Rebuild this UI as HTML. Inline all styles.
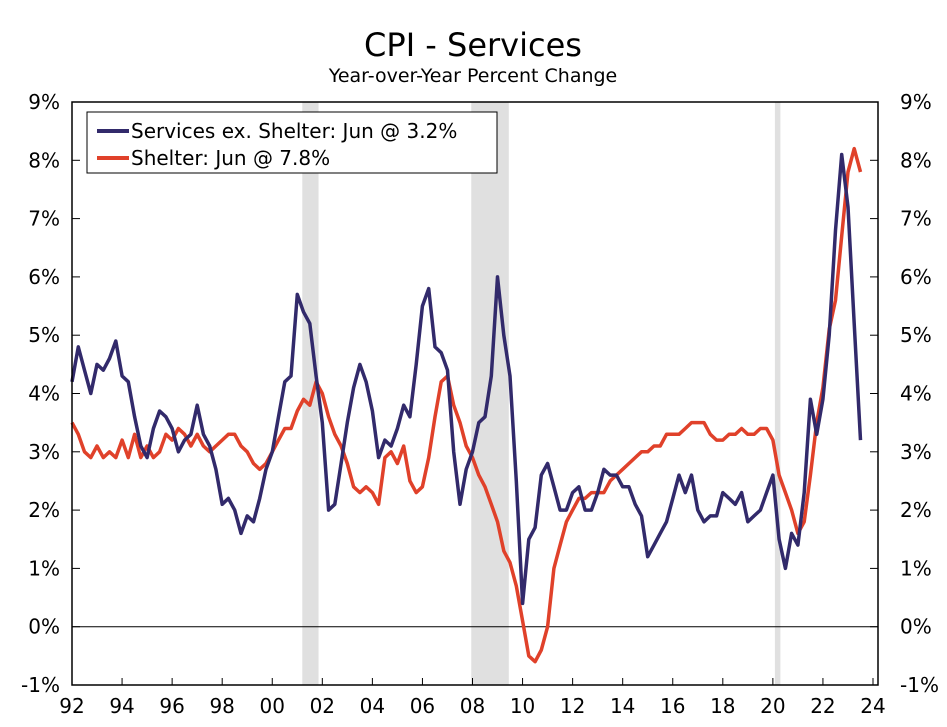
<!DOCTYPE html>
<html><head><meta charset="utf-8"><style>
body{margin:0;background:#fff;}
svg{display:block;font-family:"DejaVu Sans","Liberation Sans",sans-serif;}
</style></head><body>
<svg id="chart" width="947" height="727">
<text x="473" y="56" font-size="32" text-anchor="middle" fill="#000">CPI - Services</text>
<text x="473" y="82" font-size="19" text-anchor="middle" fill="#000">Year-over-Year Percent Change</text>
<g id="bands"></g><g id="grid"></g><g id="series"></g><g id="axes"></g>
<g>
<rect x="87" y="112" width="410" height="61" fill="#fff" stroke="#000" stroke-width="1"/>
<line x1="97" y1="131" x2="129" y2="131" stroke="#322a6b" stroke-width="4"/>
<text x="131" y="138" font-size="20">Services ex. Shelter: Jun @ 3.2%</text>
<line x1="97" y1="158" x2="129" y2="158" stroke="#e0412a" stroke-width="4"/>
<text x="131" y="165" font-size="20">Shelter: Jun @ 7.8%</text>
</g>
</svg>
<script>
const startYear = 1992;
const step = 0.25;
const servicesExShelter = [4.2,4.8,4.4,4.0,4.5,4.4,4.6,4.9,4.3,4.2,3.6,3.1,2.9,3.4,3.7,3.6,3.4,3.0,3.2,3.3,3.8,3.3,3.1,2.7,2.1,2.2,2.0,1.6,1.9,1.8,2.2,2.7,3.0,3.6,4.2,4.3,5.7,5.4,5.2,4.3,3.5,2.0,2.1,2.8,3.5,4.1,4.5,4.2,3.7,2.9,3.2,3.1,3.4,3.8,3.6,4.5,5.5,5.8,4.8,4.7,4.4,3.0,2.1,2.7,3.0,3.5,3.6,4.3,6.0,5.0,4.3,2.5,0.4,1.5,1.7,2.6,2.8,2.4,2.0,2.0,2.3,2.4,2.0,2.0,2.3,2.7,2.6,2.6,2.4,2.4,2.1,1.9,1.2,1.4,1.6,1.8,2.2,2.6,2.3,2.6,2.0,1.8,1.9,1.9,2.3,2.2,2.1,2.3,1.8,1.9,2.0,2.3,2.6,1.5,1.0,1.6,1.4,2.3,3.9,3.3,3.9,5.0,6.8,8.1,7.2,5.2,3.2];
const shelter = [3.5,3.3,3.0,2.9,3.1,2.9,3.0,2.9,3.2,2.9,3.3,2.9,3.1,2.9,3.0,3.3,3.2,3.4,3.3,3.1,3.3,3.1,3.0,3.1,3.2,3.3,3.3,3.1,3.0,2.8,2.7,2.8,3.0,3.2,3.4,3.4,3.7,3.9,3.8,4.2,4.0,3.6,3.3,3.1,2.8,2.4,2.3,2.4,2.3,2.1,2.9,3.0,2.8,3.1,2.5,2.3,2.4,2.9,3.6,4.2,4.3,3.8,3.5,3.1,2.9,2.6,2.4,2.1,1.8,1.3,1.1,0.7,0.1,-0.5,-0.6,-0.4,0.0,1.0,1.4,1.8,2.0,2.2,2.2,2.3,2.3,2.3,2.5,2.6,2.7,2.8,2.9,3.0,3.0,3.1,3.1,3.3,3.3,3.3,3.4,3.5,3.5,3.5,3.3,3.2,3.2,3.3,3.3,3.4,3.3,3.3,3.4,3.4,3.2,2.6,2.3,2.0,1.6,1.8,2.6,3.5,4.1,5.1,5.6,6.7,7.8,8.2,7.8];
const recessionStarts = [2001.2, 2007.95, 2020.08];
const recessionEnds = [2001.85, 2009.45, 2020.3];
const yTicks = [-1,0,1,2,3,4,5,6,7,8,9];
const xTickYears = [1992,1994,1996,1998,2000,2002,2004,2006,2008,2010,2012,2014,2016,2018,2020,2022,2024];
const xTickLabels = ["92","94","96","98","00","02","04","06","08","10","12","14","16","18","20","22","24"];

const NS="http://www.w3.org/2000/svg";
const X0=72,X1=878,Y0=685,Y1=102;
const xs=y=>72+(y-1992)*(873-72)/32;
const ys=v=>Y0-(v+1)*(Y0-Y1)/10;
function mk(tag,attrs,parent){const e=document.createElementNS(NS,tag);for(const k in attrs)e.setAttribute(k,attrs[k]);document.getElementById(parent).appendChild(e);return e;}

recessionStarts.forEach((s,i)=>{
  const r=mk('rect',{x:xs(s),y:Y1,width:xs(recessionEnds[i])-xs(s),height:Y0-Y1,fill:'#e0e0e0'},'bands');
  
  
});
const zl=mk('line',{x1:X0,x2:X1,y1:ys(0),y2:ys(0),stroke:'#000','stroke-width':1},'grid');



function line(data,color,name){
  const d=data.map((v,i)=>(i?'L':'M')+xs(startYear+i*step).toFixed(1)+','+ys(v).toFixed(1)).join('');
  const p=mk('path',{d:d,fill:'none',stroke:color,'stroke-width':3.5,'stroke-linejoin':'round'},'series');
  
  
}
line(shelter,'#e0412a','shelter-line');
line(servicesExShelter,'#322a6b','services-ex-shelter-line');

const fr=mk('rect',{x:X0,y:Y1,width:X1-X0,height:Y0-Y1,fill:'none',stroke:'#000','stroke-width':1.5},'axes');


yTicks.forEach(t=>{
  const y=ys(t);
  mk('line',{x1:X0,x2:X0+8,y1:y,y2:y,stroke:'#000'},'axes');
  mk('line',{x1:X1-8,x2:X1,y1:y,y2:y,stroke:'#000'},'axes');
  const l=mk('text',{x:X0-12,y:y+7,'font-size':20,'text-anchor':'end'},'axes');l.textContent=t+'%';
  
  
  const r=mk('text',{x:X1+22,y:y+7,'font-size':20,'text-anchor':'start'},'axes');r.textContent=t+'%';
  
  
});
xTickYears.forEach((yr,i)=>{
  const x=xs(yr);
  mk('line',{x1:x,x2:x,y1:Y0,y2:Y0-7,stroke:'#000'},'axes');
  const t=mk('text',{x:x,y:Y0+28,'font-size':20,'text-anchor':'middle'},'axes');t.textContent=xTickLabels[i];
  
  
});
</script>
</body></html>
